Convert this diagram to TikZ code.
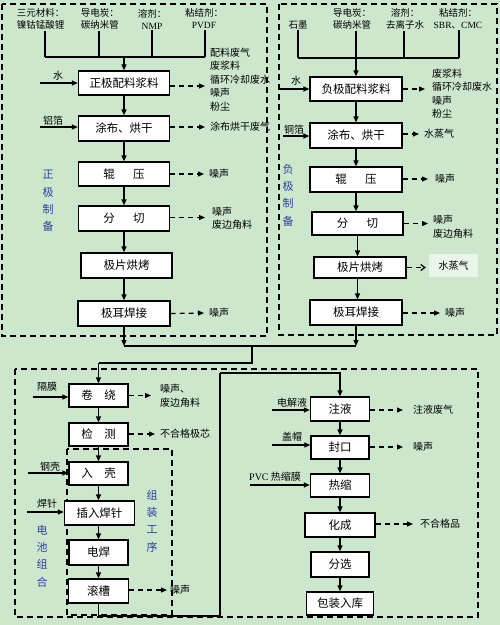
\documentclass[tikz,border=0pt]{standalone}
\usepackage{fontspec}
\setmainfont{Noto Sans CJK SC}
\newfontfamily\latser{Liberation Serif}
\usetikzlibrary{arrows.meta}
\definecolor{bggreen}{RGB}{204,231,205}
\definecolor{vblue}{RGB}{45,65,150}
\definecolor{paleg}{RGB}{234,245,234}
\newcommand\boxfont{\fontsize{11.5}{13}\selectfont}
\newcommand\lblfont{\fontsize{10}{13.5}\selectfont}
\newcommand\matfont{\fontsize{9.5}{12}\selectfont}
\newcommand\vfont{\fontsize{11}{17.3}\selectfont}
\tikzset{
  box/.style={draw, line width=1.3pt, fill=white, inner sep=0pt, font=\boxfont},
  flow/.style={line width=1.3pt, -{Triangle[length=6pt,width=5pt]}},
  conn/.style={line width=1.3pt},
  emit/.style={line width=1.2pt, dash pattern=on 5pt off 4pt, -{Triangle[length=6pt,width=5pt]}},
  emitopen/.style={line width=1.2pt, dash pattern=on 5pt off 4pt, -{Straight Barb[length=4pt,width=6pt]}},
  frame/.style={line width=1.3pt, dash pattern=on 6pt off 4pt},
  lbl/.style={inner sep=0pt, anchor=west, font=\lblfont, align=left},
  mat/.style={inner sep=1pt, font=\matfont, align=center},
  vlabel/.style={inner sep=0pt, font=\vfont, text=vblue, align=center},
}
\begin{document}
\begin{tikzpicture}[x=1pt,y=-1pt]
\fill[bggreen] (0,0) rectangle (500,625);
\useasboundingbox (0,0) rectangle (500,625);

% frames
\draw[frame] (2,4) rectangle (267,336);
\draw[frame] (279,4) rectangle (497,335);
\draw[frame] (15,369) rectangle (478,617);
\draw[frame] (67,449) rectangle (172,615);

% ---------- top left: positive electrode ----------
\node[mat] (m1) at (40.5,19) {三元材料：\\镍钴锰酸锂};
\node[mat] (m2) at (100,19) {导电炭：\\碳纳米管};
\node[mat] (m3) at (152,19) {溶剂：\\{\latser NMP}};
\node[mat] (m4) at (204,19) {粘结剂：\\{\latser PVDF}};
\coordinate (j1) at (45,57);
\coordinate (j2) at (99,57);
\coordinate (j3) at (152,57);
\coordinate (j4) at (205,57);
\coordinate (jm) at (124,57);
\draw[conn] (m1.south -| j1) -- (j1);
\draw[conn] (m2.south -| j2) -- (j2);
\draw[conn] (m3.south -| j3) -- (j3);
\draw[conn] (m4.south -| j4) -- (j4);
\draw[conn] (j1) -- (j4);

\node[box, minimum width=91, minimum height=24] (p1) at (124,83) {正极配料浆料};
\node[box, minimum width=91, minimum height=25] (p2) at (124,128.5) {涂布、烘干};
\node[box, minimum width=91, minimum height=24] (p3) at (124,174) {辊\hspace{1.6em}压};
\node[box, minimum width=91, minimum height=25] (p4) at (124,218.5) {分\hspace{1.6em}切};
\node[box, minimum width=91, minimum height=25] (p5) at (126.5,265.5) {极片烘烤};
\node[box, minimum width=92, minimum height=25] (p6) at (124,313.5) {极耳焊接};

\draw[flow] (jm) -- (p1.north);
\draw[flow] (p1.south) -- (p1.south |- p2.north);
\draw[flow] (p2.south) -- (p2.south |- p3.north);
\draw[flow] (p3.south) -- (p3.south |- p4.north);
\draw[flow] (p4.south) -- (p4.south |- p5.north);
\draw[flow] (p4.south |- p5.south) -- (p4.south |- p6.north);

\coordinate (w1) at (40,83);
\draw[flow] (w1) -- (p1.west);
\node[lbl] (w1l) at (53,76) {水};
\coordinate (a1) at (40,127);
\draw[flow] (a1) -- (a1 -| p2.west);
\node[lbl] (a1l) at (43,121) {铝箔};

\node[lbl] (e1) at (210,79.5) {配料废气\\废浆料\\循环冷却废水\\噪声\\粉尘};
\draw[emit] ([yshift=-3pt]p1.east) -- ([xshift=-5pt,yshift=-3pt]p1.east -| e1.west);
\node[lbl] (e2) at (210,127) {涂布烘干废气};
\draw[emit] (p2.east |- e2.west) -- ([xshift=-5pt]e2.west);
\node[lbl] (e3) at (209,174) {噪声};
\draw[emit] (p3.east) -- ([xshift=-5pt]e3.west);
\node[lbl] (e4) at (212,218) {噪声\\废边角料};
\draw[emit] ([yshift=1pt]p4.east) -- ([xshift=-7pt,yshift=1pt]p4.east -| e4.west);
\node[lbl] (e6) at (209,313) {噪声};
\draw[emit] (p6.east) -- ([xshift=-5pt]e6.west);

\node[vlabel] (vl1) at (48,201) {正\\极\\制\\备};

% ---------- top right: negative electrode ----------
\node[mat] (m5) at (298,25) {石墨};
\node[mat] (m6) at (352,19) {导电炭：\\碳纳米管};
\node[mat] (m7) at (405,19) {溶剂：\\去离子水};
\node[mat] (m8) at (458,19) {粘结剂：\\{\latser SBR}、{\latser CMC}};
\coordinate (r1j) at (298,58);
\coordinate (r2j) at (356,58);
\coordinate (r3j) at (404,58);
\coordinate (r4j) at (459,58);
\draw[conn] (m5.south -| r1j) -- (r1j);
\draw[conn] (m6.south -| r2j) -- (r2j);
\draw[conn] (m7.south -| r3j) -- (r3j);
\draw[conn] (m8.south -| r4j) -- (r4j);
\draw[conn] (r1j) -- (r4j);

\node[box, minimum width=92, minimum height=24] (n1) at (356,89) {负极配料浆料};
\node[box, minimum width=92, minimum height=25] (n2) at (356,135.5) {涂布、烘干};
\node[box, minimum width=92, minimum height=25] (n3) at (356,179.5) {辊\hspace{1.6em}压};
\node[box, minimum width=91, minimum height=23] (n4) at (357.5,223.5) {分\hspace{1.6em}切};
\node[box, minimum width=92, minimum height=21] (n5) at (360,267.5) {极片烘烤};
\node[box, minimum width=92, minimum height=25] (n6) at (356,312.5) {极耳焊接};

\draw[flow] (r2j) -- (n1.north);
\draw[flow] (n1.south) -- (n1.south |- n2.north);
\draw[flow] (n2.south) -- (n2.south |- n3.north);
\draw[flow] (n3.south) -- (n3.south |- n4.north);
\draw[flow] (n4.south) -- (n4.south |- n5.north);
\draw[flow] (n4.south |- n5.south) -- (n4.south |- n6.north);

\coordinate (w2) at (280,89);
\draw[flow] (w2) -- (n1.west);
\node[lbl] (w2l) at (291,81) {水};
\coordinate (c2) at (283,136);
\draw[flow] (c2) -- (c2 -| n2.west);
\node[lbl] (c2l) at (284,130) {铜箔};

\node[lbl] (f1) at (432,93.5) {废浆料\\循环冷却废水\\噪声\\粉尘};
\draw[emit] (n1.east) -- ([xshift=-7pt]n1.east -| f1.west);
\node[lbl] (f2) at (424,134) {水蒸气};
\draw[emit] (n2.east |- f2.west) -- ([xshift=-5pt]f2.west);
\node[lbl] (f3) at (435,179) {噪声};
\draw[emit] (n3.east |- f3.west) -- ([xshift=-7pt]f3.west);
\node[lbl] (f4) at (433,226.5) {噪声\\废边角料};
\draw[emit] (n4.east) -- ([xshift=-5pt]n4.east -| f4.west);
\node[fill=paleg, minimum width=49, minimum height=23, inner sep=0pt, font=\lblfont] (f5) at (453.5,265.5) {水蒸气};
\draw[emitopen] (n5.east) -- ([xshift=-3pt]n5.east -| f5.west);
\node[lbl] (f6) at (445,313) {噪声};
\draw[emit] (n6.east |- f6.west) -- ([xshift=-5pt]f6.west);

\node[vlabel] (vl2) at (288,195) {负\\极\\制\\备};

% ---------- merge ----------
\coordinate (k1) at (124,346);
\coordinate (k2) at (356,346);
\coordinate (k3) at (252,346);
\coordinate (k4) at (252,363);
\coordinate (k5) at (98.5,363);
\draw[flow] (p6.south) -- (k1);
\draw[flow] (n6.south) -- (k2);
\draw[conn] (k1) -- (k2);
\draw[conn] (k3) -- (k4) -- (k5);

% ---------- bottom left: battery assembly ----------
\node[box, minimum width=59, minimum height=23] (b1) at (98.5,395.5) {卷\hspace{1em}绕};
\node[box, minimum width=59, minimum height=23] (b2) at (98.5,434.5) {检\hspace{1em}测};
\node[box, minimum width=59, minimum height=23] (b3) at (98.5,473.5) {入\hspace{1em}壳};
\node[box, minimum width=70, minimum height=24] (b4) at (99.5,513) {插入焊针};
\node[box, minimum width=59, minimum height=25] (b5) at (98.5,552.5) {电焊};
\node[box, minimum width=60, minimum height=24] (b6) at (98.5,591) {滚槽};

\draw[flow] (k5) -- (b1.north);
\draw[flow] (b1.south) -- (b2.north);
\draw[flow] (b2.south) -- (b3.north);
\draw[flow] (b3.south) -- (b3.south |- b4.north);
\draw[flow] (b3.south |- b4.south) -- (b5.north);
\draw[flow] (b5.south) -- (b6.north);

\coordinate (g1) at (33,397);
\draw[flow] (g1) -- (g1 -| b1.west);
\node[lbl] (g1l) at (37,387) {隔膜};
\coordinate (g3) at (28,473);
\draw[flow] (g3) -- (g3 -| b3.west);
\node[lbl] (g3l) at (40,467) {钢壳};
\coordinate (g4) at (27,512);
\draw[flow] (g4) -- (g4 -| b4.west);
\node[lbl] (g4l) at (37,504) {焊针};

\node[lbl] (h1) at (160,395.5) {噪声、\\废边角料};
\draw[emit] (b1.east) -- ([xshift=-9pt]b1.east -| h1.west);
\node[lbl] (h2) at (160,434) {不合格极芯};
\draw[emit] (b2.east |- h2.west) -- ([xshift=-5pt]h2.west);
\node[lbl] (h6) at (170,590) {噪声};
\draw[emit] (b6.east |- h6.west) -- ([xshift=-3pt]h6.west);

\node[vlabel] (vl3) at (42,556) {电\\池\\组\\合};
\node[vlabel] (vl4) at (152,521) {组\\装\\工\\序};

% ---------- bottom right ----------
\node[box, minimum width=59, minimum height=24] (r1) at (340,409) {注液};
\node[box, minimum width=58, minimum height=23] (r2) at (340,447.5) {封口};
\node[box, minimum width=59, minimum height=23] (r3) at (340,485.5) {热缩};
\node[box, minimum width=70, minimum height=24] (r4) at (340,525) {化成};
\node[box, minimum width=58, minimum height=25] (r5) at (340,564.5) {分选};
\node[box, minimum width=67, minimum height=23] (r6) at (340,603.5) {包装入库};

\coordinate (q2) at (220,616);
\coordinate (q3) at (220,373);
\draw[conn] (b6.south) |- (q2) -- (q3);
\draw[flow] (q3) -| (r1.north);
\draw[flow] (r1.south) -- (r2.north);
\draw[flow] (r2.south) -- (r3.north);
\draw[flow] (r3.south) -- (r4.north);
\draw[flow] (r4.south) -- (r5.north);
\draw[flow] (r5.south) -- (r6.north);

\coordinate (d1) at (272,410);
\draw[flow] (d1) -- (d1 -| r1.west);
\node[lbl] (d1l) at (277,403) {电解液};
\coordinate (d2) at (272,445);
\draw[flow] (d2) -- (d2 -| r2.west);
\node[lbl] (d2l) at (282,437) {盖帽};
\coordinate (d3) at (250,485);
\draw[flow] (d3) -- (d3 -| r3.west);
\node[lbl] (d3l) at (249,477) {{\latser PVC} 热缩膜};

\node[lbl] (s1) at (413,410) {注液废气};
\draw[emit] (r1.east |- s1.west) -- ([xshift=-10pt]s1.west);
\node[lbl] (s2) at (413,447) {噪声};
\draw[emit] (r2.east |- s2.west) -- ([xshift=-10pt]s2.west);
\node[lbl] (s4) at (420,524) {不合格品};
\draw[emit] (r4.east |- s4.west) -- ([xshift=-7pt]s4.west);
\end{tikzpicture}
\end{document}
